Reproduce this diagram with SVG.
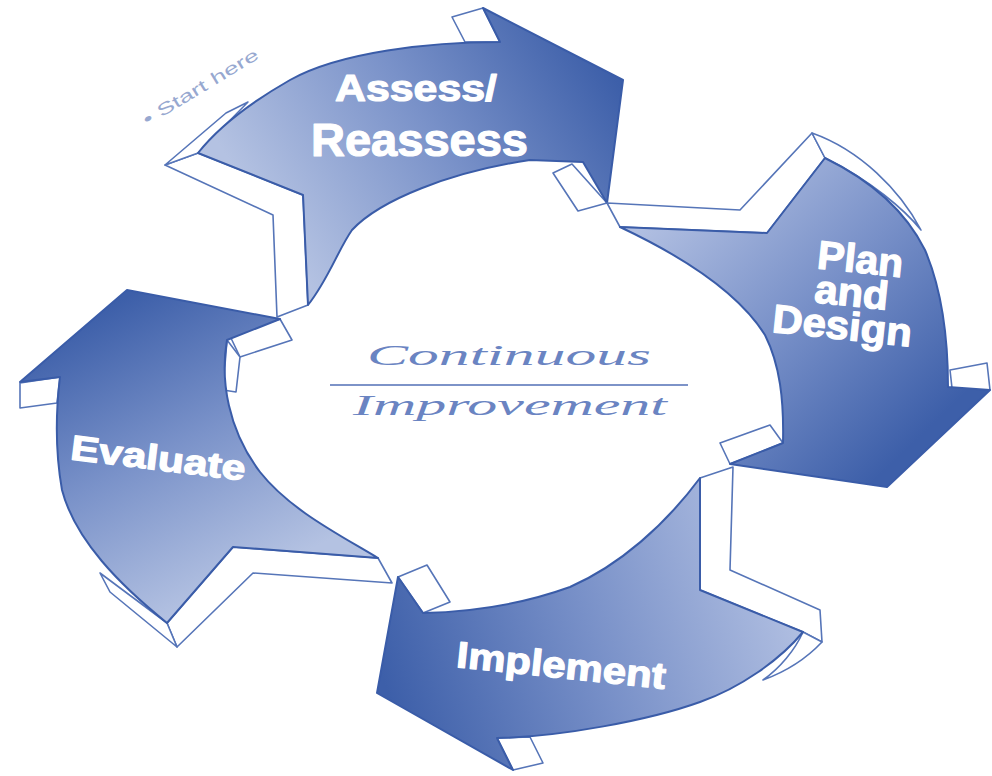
<svg xmlns="http://www.w3.org/2000/svg" width="992" height="776" viewBox="0 0 992 776">
  <defs>
    <linearGradient id="gTop" gradientUnits="userSpaceOnUse" x1="300" y1="270" x2="610" y2="70">
      <stop offset="0" stop-color="#b4c2e2"/>
      <stop offset="0.5" stop-color="#7a92c9"/>
      <stop offset="1" stop-color="#3d5fa9"/>
    </linearGradient>
    <linearGradient id="gPlan" gradientUnits="userSpaceOnUse" x1="640" y1="225" x2="880" y2="475">
      <stop offset="0" stop-color="#b2c0e2"/>
      <stop offset="0.5" stop-color="#7890c8"/>
      <stop offset="1" stop-color="#3d5fa9"/>
    </linearGradient>
    <linearGradient id="gImpl" gradientUnits="userSpaceOnUse" x1="790" y1="570" x2="390" y2="700">
      <stop offset="0" stop-color="#b2c0e2"/>
      <stop offset="0.5" stop-color="#7890c8"/>
      <stop offset="1" stop-color="#3d5fa9"/>
    </linearGradient>
    <linearGradient id="gEval" gradientUnits="userSpaceOnUse" x1="270" y1="570" x2="130" y2="295">
      <stop offset="0" stop-color="#b4c2e2"/>
      <stop offset="0.5" stop-color="#7a92c9"/>
      <stop offset="1" stop-color="#3d5fa9"/>
    </linearGradient>
  </defs>
  <style>
    .face { fill: #ffffff; stroke: #5675b8; stroke-width: 1.6; stroke-linejoin: round; }
    .body { stroke: #3a5ca8; stroke-width: 2; stroke-linejoin: round; }
    .label { fill: #ffffff; stroke: #ffffff; stroke-width: 1.2; stroke-linejoin: round; font-family: "Liberation Sans", Arial, sans-serif; font-weight: bold; }
    .script { fill: #6a84c2; font-family: "Liberation Serif", "DejaVu Serif", serif; font-style: italic; }
    .note { fill: #97a8d0; font-family: "Liberation Sans", Arial, sans-serif; }
  </style>
  <rect width="992" height="776" fill="#ffffff"/>

  <!-- Assess / Reassess arrow (top) -->
  <g id="assess">
    <polygon class="face" points="165,165 198,153 303,195 308,305 277,317 273,215"/>
    <polygon class="face" points="165,165 198,153 248,102 226,113"/>
    <polygon class="face" points="452,17 483,8 500,42 465,42"/>
    <polygon class="face" points="553,173 572,164 607,203 578,211"/>
    <path class="body" fill="url(#gTop)" d="M198,153 L303,195 L308,305 C328,280 338,250 352,230 C380,200 450,172 530,160 L583,162 L607,203 L623,80 L483,8 L500,42 C430,42 340,52 290,80 C255,100 220,125 198,153 Z"/>
    <text class="label" x="335" y="101" font-size="37" textLength="162" lengthAdjust="spacingAndGlyphs">Assess/</text>
    <text class="label" x="311" y="156" font-size="46" textLength="217" lengthAdjust="spacingAndGlyphs">Reassess</text>
  </g>

  <!-- Plan and Design arrow (right) -->
  <g id="plan">
    <polygon class="face" points="607,203 740,210 812,133 825,158 767,233 620,227"/>
    <path class="face" d="M812,133 C860,150 900,190 921,230 C905,210 870,180 825,158 Z"/>
    <polygon class="face" points="950,370 987,363 990,390 953,397"/>
    <polygon class="face" points="720,443 770,425 783,443 730,464"/>
    <path class="body" fill="url(#gPlan)" d="M620,227 L767,233 L825,158 C870,180 905,210 925,250 C942,290 948,340 948,387 L990,390 L887,487 L730,464 L783,443 C784,400 780,365 765,335 C740,295 690,260 620,227 Z"/>
    <g transform="rotate(6 850 300)">
      <text class="label" x="856" y="272" font-size="40" text-anchor="middle" textLength="86" lengthAdjust="spacingAndGlyphs">Plan</text>
      <text class="label" x="851" y="306" font-size="40" text-anchor="middle" textLength="74" lengthAdjust="spacingAndGlyphs">and</text>
      <text class="label" x="845" y="340" font-size="40" text-anchor="middle" textLength="140" lengthAdjust="spacingAndGlyphs">Design</text>
    </g>
  </g>

  <!-- Implement arrow (bottom) -->
  <g id="implement">
    <polygon class="face" points="700,478 733,467 730,570 820,610 822,642 803,632 700,590"/>
    <path class="face" d="M803,632 L822,642 C805,660 785,672 763,680 C780,668 795,650 803,632 Z"/>
    <polygon class="face" points="398,577 427,565 450,602 423,613"/>
    <polygon class="face" points="497,738 530,737 543,763 513,770"/>
    <path class="body" fill="url(#gImpl)" d="M700,478 L700,590 L803,632 C780,660 740,688 700,702 C650,720 560,737 497,738 L513,770 L377,693 L398,577 L423,613 C470,612 520,605 570,587 C620,565 665,525 700,478 Z"/>
    <text class="label" x="561" y="678" font-size="37" text-anchor="middle" textLength="210" lengthAdjust="spacingAndGlyphs" transform="rotate(6 561 668)">Implement</text>
  </g>

  <!-- Evaluate arrow (left) -->
  <g id="evaluate">
    <polygon class="face" points="20,383 60,377 57,403 20,408"/>
    <polygon class="face" points="230,336 280,319 292,340 240,357"/>
    <polygon class="face" points="227,340 240,357 236,392 223,390"/>
    <polygon class="face" points="167,623 233,547 378,558 392,583 253,573 177,647"/>
    <polygon class="face" points="100,573 167,623 177,647 110,592"/>
    <path class="body" fill="url(#gEval)" d="M127,290 L280,319 L227,340 C220,380 228,430 260,472 C290,510 340,535 378,558 L233,547 L167,623 C120,585 75,540 62,490 C55,450 56,410 60,377 L20,382 Z"/>
    <text class="label" x="158" y="470" font-size="35" text-anchor="middle" textLength="176" lengthAdjust="spacingAndGlyphs" transform="rotate(7 158 460)">Evaluate</text>
  </g>

  <!-- starting marker -->
  <g id="start">
    <text class="note" x="147" y="126" font-size="17" textLength="132" lengthAdjust="spacingAndGlyphs" transform="rotate(-31 147 126)">• Start here</text>
  </g>

  <!-- centre title -->
  <g id="centre">
    <text class="script" x="509" y="365" font-size="30" text-anchor="middle" textLength="284" lengthAdjust="spacingAndGlyphs">Continuous</text>
    <line x1="330" y1="385" x2="688" y2="385" stroke="#7d93c8" stroke-width="2"/>
    <text class="script" x="510" y="415" font-size="30" text-anchor="middle" textLength="314" lengthAdjust="spacingAndGlyphs">Improvement</text>
  </g>
</svg>
